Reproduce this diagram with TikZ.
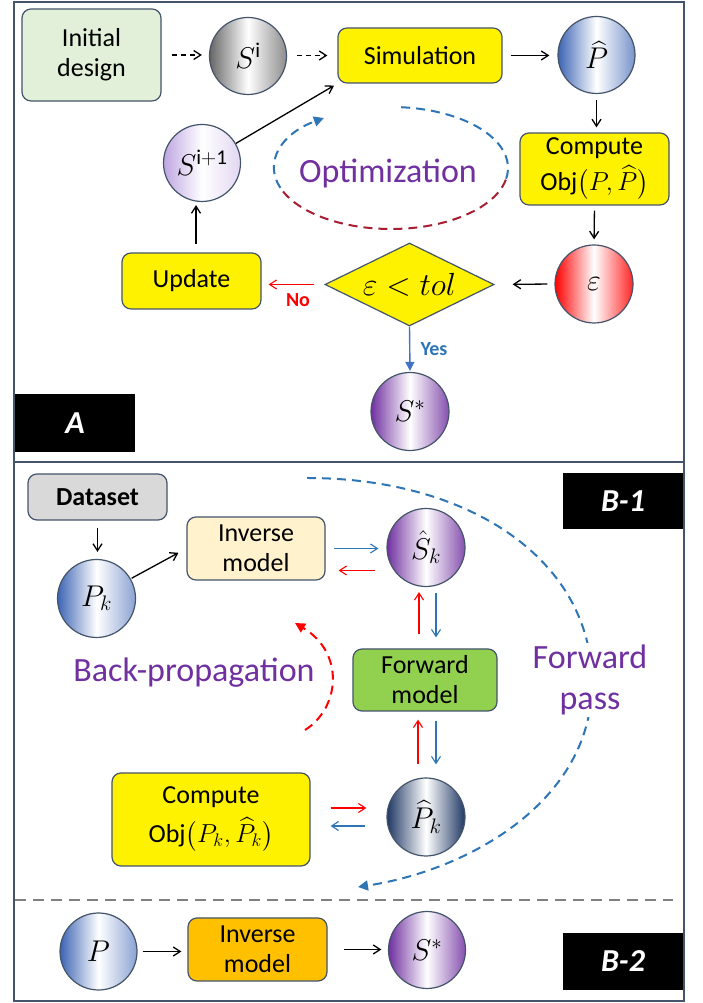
\RequirePackage{fix-cm}
\documentclass[tikz,border=0pt]{standalone}
\usepackage{amsmath}
\usepackage{fontspec}
\setmainfont{Carlito}
\usetikzlibrary{shapes.geometric,arrows.meta,calc}
\definecolor{bd}{RGB}{68,84,106}
\definecolor{igreen}{RGB}{226,240,217}
\definecolor{cream}{RGB}{255,242,204}
\definecolor{fgreen}{RGB}{146,208,80}
\definecolor{orangeB}{RGB}{255,192,0}
\definecolor{grayD}{RGB}{217,217,217}
\definecolor{purp}{RGB}{112,48,160}
\definecolor{blueA}{RGB}{46,117,182}
\definecolor{arrblue}{RGB}{68,114,196}
\definecolor{maroonA}{RGB}{165,30,50}
\definecolor{navyA}{RGB}{31,56,100}
\definecolor{cblue}{RGB}{60,100,180}
\definecolor{lav}{RGB}{190,165,225}
\newcommand\fsA{\fontsize{26}{30}\selectfont}
\newcommand\fsC{\fontsize{30}{34}\selectfont}
\newcommand\fsM{\fontsize{32}{36}\selectfont}
\newcommand\fsO{\fontsize{34}{41}\selectfont}
\newcommand\fsS{\fontsize{20}{24}\selectfont}
\newcommand\fsL{\fontsize{32}{38}\selectfont}
\tikzset{
  box/.style={draw=bd, line width=1.2pt, rounded corners=9pt, align=center, inner sep=0pt, font=\fsA},
  circ/.style={circle, draw=bd, line width=1.2pt, minimum size=77pt, inner sep=0pt, font=\fsC},
  arr/.style={-{Straight Barb[length=7pt,width=9pt]}, line width=1.3pt},
  barr/.style={arr, blueA, line width=1.1pt},
  rarr/.style={arr, red, line width=1.1pt},
  lab/.style={fill=black, text=white, font=\fsL\bfseries\itshape, inner sep=0pt},
  bigdash/.style={line width=2pt, dash pattern=on 9pt off 6pt},
}
\begin{document}
\begin{tikzpicture}[x=1pt,y=1pt]
\useasboundingbox (0,0) rectangle (703,1003);
\fill[white] (0,0) rectangle (703,1003);
\draw[bd, line width=1.3pt] (14,2) rectangle (684,1001);
\draw[bd, line width=1.3pt] (14,541) -- (684,541);

% labels
\node[lab, minimum width=120pt, minimum height=58pt] (labA) at (75,580) {A};
\node[lab, minimum width=120pt, minimum height=56pt] (labB1) at (623,502) {B-1};
\node[lab, minimum width=120pt, minimum height=57pt] (labB2) at (623,41.5) {B-2};

% ---------- Panel A ----------
\coordinate (ec) at (391,835);
\draw[blueA, bigdash] ($(ec)+({117*cos(85)},{61*sin(85)})$) arc[start angle=85, end angle=-11, x radius=117pt, y radius=61pt];
\draw[maroonA, bigdash] ($(ec)+({117*cos(-11)},{61*sin(-11)})$) arc[start angle=-11, end angle=-161, x radius=117pt, y radius=61pt];
\draw[blueA, bigdash, -{Triangle[length=10pt,width=10pt]}] ($(ec)+({117*cos(199)},{61*sin(199)})$) arc[start angle=199, end angle=125, x radius=117pt, y radius=61pt];
\node[font=\fsO, text=purp] (opt) at (388,830) {Optimization};

\node[box, fill=igreen, minimum width=139pt, minimum height=92pt] (init) at (91.5,948) {Initial\\design};
\node[circ, left color=black!60, right color=black!45, middle color=white] (Si) at (248,947) {$S^{\mathrm{i}}$};
\node[box, fill=yellow, minimum width=164pt, minimum height=55pt] (sim) at (420,947.5) {Simulation};
\node[circ, left color=cblue, right color=cblue!70, middle color=white] (Ph) at (596.5,948) {$\widehat{P}$};
\node[box, fill=yellow, minimum width=149pt, minimum height=72pt] (comp) at (594.5,834) {Compute\\[6pt]Obj$\bigl(P,\widehat{P}\bigr)$};
\node[circ, minimum size=78pt, left color=red, right color=red!85, middle color=white] (eps) at (594,719) {$\varepsilon$};
\node[diamond, aspect=2, draw=bd, line width=1.2pt, fill=yellow, minimum width=169pt, minimum height=83pt, inner sep=0pt, font=\fsM] (dia) at (409.5,718.5) {$\varepsilon < tol$};
\node[box, fill=yellow, minimum width=139pt, minimum height=56pt] (upd) at (191.5,722) {Update};
\node[circ, left color=lav, right color=lav!45, middle color=white] (Si1) at (202,840) {$S^{\mathrm{i+1}}$};
\node[circ, minimum size=78pt, left color=purp, right color=purp!85, middle color=white] (Ss) at (410,591.5) {$S^{*}$};
\node[font=\fsS\bfseries, text=red] (no) at (298,703) {No};
\node[font=\fsS\bfseries, text=blueA] (yes) at (434,654) {Yes};

\draw[arr, dash pattern=on 5pt off 4pt, shorten <=10pt, shorten >=7pt] (init.east) -- (init.east -| Si.west);
\draw[arr, dash pattern=on 5pt off 4pt, shorten <=10pt, shorten >=10pt] (Si.east |- sim.west) -- (sim.west);
\draw[arr, shorten <=8pt, shorten >=8pt] (sim.east) -- (sim.east -| Ph.west);
\draw[arr, shorten <=6pt, shorten >=5pt] (Ph.south) -- (Ph.south |- comp.north);
\draw[arr, shorten <=5pt, shorten >=5pt] (comp.south) -- (eps.north);
\draw[arr, shorten <=7pt, shorten >=18pt] (eps.west) -- (dia.east);
\draw[rarr, shorten <=10pt, shorten >=7pt] (dia.west) -- (dia.west -| upd.east);
\draw[arr, shorten <=8pt, shorten >=3pt] ([xshift=4.5pt]upd.north) -- ([xshift=4.5pt]upd.north |- Si1.south);
\draw[arr, shorten >=4pt] (Si1.30) -- (sim.south west);
\draw[arrblue, line width=1.4pt, -{Triangle[length=9pt,width=9pt]}, shorten >=1pt] (dia.south) -- (Ss.north);

% ---------- Panel B-1 ----------
\coordinate (fa) at (307,525);
\coordinate (fb) at (592,323);
\coordinate (fc) at (358,116);
\draw[blueA, bigdash, -{Triangle[length=10pt,width=10pt]}] (fa) .. controls (470,525) and (590,443) .. (fb) .. controls (594,203) and (470,133) .. (fc);
\node[font=\fsO, text=purp, fill=white, align=center, inner sep=2pt] (fp) at (590,323) {Forward\\pass};

\coordinate (bp1) at (305,273);
\coordinate (bp2) at (295,380);
\draw[red, bigdash, -{Triangle[length=10pt,width=10pt]}] (bp1) .. controls (340,295) and (345,350) .. (bp2);
\node[font=\fsO, text=purp] (bp) at (194,330) {Back-propagation};

\node[box, fill=grayD, font=\fsA\bfseries, minimum width=139pt, minimum height=46pt] (data) at (97.5,506) {Dataset};
\node[circ, minimum size=78pt, left color=cblue, right color=cblue!60, middle color=white] (Pk) at (96.5,404.5) {$P_k$};
\node[box, fill=cream, minimum width=138pt, minimum height=63pt] (inv) at (256,454.5) {Inverse\\model};
\node[circ, minimum size=78pt, left color=purp, right color=purp!85, middle color=white] (Sk) at (426,455.5) {$\hat{S}_k$};
\node[box, fill=fgreen, minimum width=144pt, minimum height=62pt] (fwd) at (425,323) {Forward\\model};
\node[circ, minimum size=78pt, left color=navyA, right color=navyA, middle color=white] (Pkh) at (426,186) {$\widehat{P}_k$};
\node[box, fill=yellow, minimum width=198pt, minimum height=93pt] (comp2) at (211,183.5) {Compute\\[9pt]Obj$\bigl(P_k,\widehat{P}_k\bigr)$};

\draw[arr, shorten <=7pt, shorten >=7pt] (data.south) -- (data.south |- Pk.north);
\draw[arr, shorten <=1pt, shorten >=9pt] (Pk.30) -- (inv.west);
\draw[barr, shorten <=8pt, shorten >=8pt] (inv.east) -- (inv.east -| Sk.west);
\draw[rarr, shorten <=11pt, shorten >=13pt] ([yshift=-22pt]inv.east -| Sk.west) -- ([yshift=-22pt]inv.east);
\draw[rarr, shorten <=14pt, shorten >=5pt] ([xshift=-6pt]fwd.north) -- ([xshift=-6pt]fwd.north |- Sk.south);
\draw[barr, shorten <=6pt, shorten >=11pt] ([xshift=11pt]fwd.north |- Sk.south) -- ([xshift=11pt]fwd.north);
\draw[rarr, shorten <=13pt, shorten >=8pt] ([xshift=-7pt]fwd.south |- Pkh.north) -- ([xshift=-7pt]fwd.south);
\draw[barr, shorten <=9pt, shorten >=13pt] ([xshift=11pt]fwd.south) -- ([xshift=11pt]fwd.south |- Pkh.north);
\draw[rarr, shorten <=20pt, shorten >=20pt] ([yshift=11.5pt]comp2.east) -- ([yshift=11.5pt]comp2.east -| Pkh.west);
\draw[barr, shorten <=21pt, shorten >=20pt] ([yshift=-6.5pt]comp2.east -| Pkh.west) -- ([yshift=-6.5pt]comp2.east);

% separator
\draw[black!50, line width=2pt, dash pattern=on 11pt off 7pt] (15,103) -- (673,103);

% ---------- Panel B-2 ----------
\node[circ, left color=cblue, right color=cblue!60, middle color=white] (P) at (98.5,51.5) {$P$};
\node[box, fill=orangeB, minimum width=139pt, minimum height=63pt] (inv2) at (257.5,53.5) {Inverse\\model};
\node[circ, left color=purp, right color=purp!85, middle color=white] (Ss2) at (427,53) {$S^{*}$};
\draw[arr, shorten <=5pt, shorten >=6pt] (P.east) -- (P.east -| inv2.west);
\draw[arr, shorten <=16pt, shorten >=6.5pt] (inv2.east) -- (inv2.east -| Ss2.west);
\end{tikzpicture}
\end{document}
